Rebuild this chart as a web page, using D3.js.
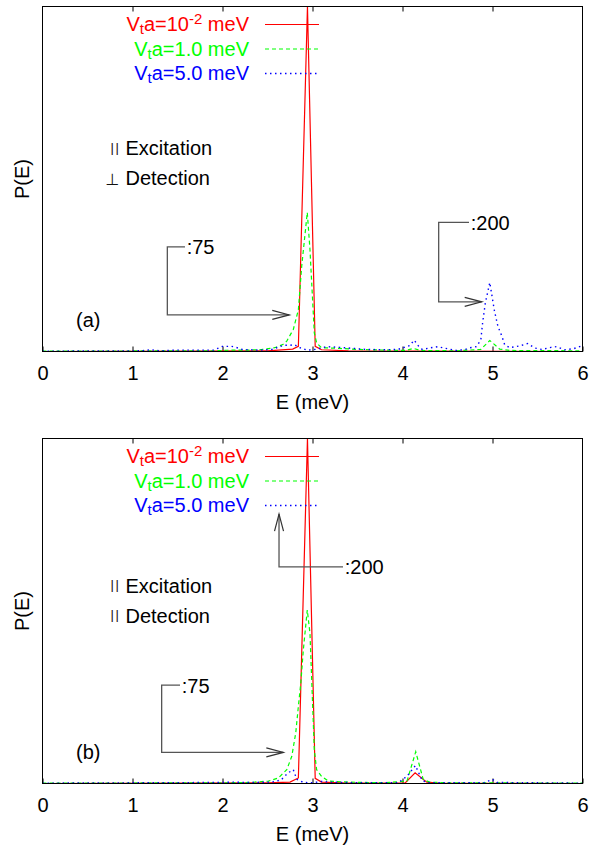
<!DOCTYPE html>
<html>
<head>
<meta charset="utf-8">
<script src="https://cdn.jsdelivr.net/npm/d3@7"></script>
<style>
  body { margin: 0; background: #fff; }
  svg { display: block; font-family: "Liberation Sans", Arial, Helvetica, sans-serif; }
</style>
</head>
<body>
<svg id="chart" width="589" height="846"></svg>
<script>
// ---- data -------------------------------------------------------------
const xTicks = [0, 1, 2, 3, 4, 5, 6];
const xTitle = "E (meV)";
const yTitle = "P(E)";
const seriesColors = ["#ff0000", "#00ff00", "#0000ff"];
const legendValues = ["10", "1.0", "5.0"];
const legendExponents = ["-2", "", ""];
const panelLabels = ["(a)", "(b)"];
const excitationMarks = ["||", "||"];
const detectionMarks = ["\u22A5", "||"];
const noteLabels = [[":75", ":200"], [":200", ":75"]];

// panel (a): [E (meV), P(E)]
const redA = [[0, 0], [2.5, 0.002], [2.78, 0.007], [2.843, 0.015], [2.944, 1.0],
  [3.03, 0.015], [3.1, 0.005], [3.4, 0.002], [6, 0]];
const greenA = [[0, 0.001], [1.9, 0.002], [2.1, 0.004], [2.3, 0.004], [2.44, 0.006],
  [2.58, 0.011], [2.67, 0.02], [2.714, 0.03], [2.787, 0.064], [2.843, 0.121],
  [2.88, 0.247], [2.942, 0.403], [2.972, 0.295], [3.02, 0.054], [3.046, 0.025],
  [3.1, 0.011], [3.3, 0.009], [3.5, 0.006], [3.8, 0.004], [4.04, 0.003],
  [4.12, 0.009], [4.2, 0.003], [4.6, 0.002], [4.87, 0.006], [4.97, 0.032],
  [5.08, 0.007], [5.2, 0.003], [6, 0.002]];
const blueA = [[0, 0.001], [1.1, 0.002], [1.2, 0.005], [1.3, 0.002], [1.5, 0.004],
  [1.9, 0.004], [2.0, 0.015], [2.1, 0.015], [2.15, 0.012], [2.22, 0.006],
  [2.4, 0.004], [2.55, 0.006], [2.676, 0.018], [2.75, 0.018], [2.8, 0.02],
  [2.85, 0.012], [2.94, 0.004], [3.03, 0.006], [3.16, 0.014], [3.3, 0.012],
  [3.45, 0.009], [3.6, 0.006], [3.8, 0.005], [3.95, 0.006], [4.08, 0.017],
  [4.13, 0.033], [4.18, 0.015], [4.22, 0.006], [4.3, 0.01], [4.39, 0.014],
  [4.5, 0.008], [4.6, 0.003], [4.7, 0.006], [4.75, 0.011], [4.82, 0.014],
  [4.87, 0.033], [4.89, 0.083], [4.92, 0.14], [4.97, 0.2], [5.02, 0.12],
  [5.06, 0.073], [5.105, 0.044], [5.135, 0.02], [5.19, 0.011], [5.3, 0.016],
  [5.39, 0.023], [5.47, 0.01], [5.55, 0.006], [5.65, 0.012], [5.71, 0.014],
  [5.8, 0.005], [5.9, 0.008], [6, 0.017]];

// panel (b): [E (meV), P(E)]
const redB = [[0, 0], [2.5, 0.002], [2.75, 0.004], [2.843, 0.016], [2.944, 1.0],
  [3.03, 0.015], [3.1, 0.004], [3.4, 0.001], [4.03, 0.002], [4.14, 0.031],
  [4.27, 0.004], [4.4, 0.001], [6, 0]];
const greenB = [[0, 0.001], [2.0, 0.002], [2.3, 0.003], [2.51, 0.007], [2.62, 0.016],
  [2.714, 0.04], [2.77, 0.079], [2.814, 0.147], [2.843, 0.224], [2.87, 0.291],
  [2.898, 0.387], [2.942, 0.503], [2.972, 0.435], [3.02, 0.098], [3.046, 0.04],
  [3.1, 0.021], [3.175, 0.007], [3.4, 0.004], [3.8, 0.002], [4.05, 0.007],
  [4.147, 0.092], [4.23, 0.012], [4.3, 0.004], [4.5, 0.002], [6, 0.001]];
const blueB = [[0, 0.001], [1.0, 0.002], [2.0, 0.003], [2.1, 0.004], [2.3, 0.003],
  [2.55, 0.004], [2.65, 0.01], [2.73, 0.031], [2.787, 0.04], [2.825, 0.012],
  [2.9, 0.003], [3.0, 0.002], [3.1, 0.006], [3.2, 0.004], [3.5, 0.002],
  [3.95, 0.002], [4.05, 0.021], [4.144, 0.052], [4.22, 0.008], [4.3, 0.002],
  [4.9, 0.002], [5.0, 0.012], [5.05, 0.003], [6, 0.001]];

// ---- layout -----------------------------------------------------------
const svg = d3.select("#chart");
const plotLeft = 42.5, plotRight = 582.5, plotH = 345;
const panels = [
  { top: 6.5, series: [redA, greenA, blueA], excY: 155, detY: 185,
    notes: [
      { path: [[1.583, 0.303], [1.387, 0.303], [1.387, 0.106], [2.742, 0.106]] },
      { path: [[4.739, 0.374], [4.402, 0.374], [4.402, 0.144], [4.88, 0.144]] }
    ] },
  { top: 438.5, series: [redB, greenB, blueB], excY: 592.7, detY: 622.7,
    notes: [
      { path: [[3.339, 0.628], [2.628, 0.628], [2.628, 0.781]] },
      { path: [[1.528, 0.285], [1.324, 0.285], [1.324, 0.09], [2.676, 0.09]] }
    ] }
];
const dashes = [null, "4,3", "1.5,3.5"];
const widths = [1.2, 1.2, 1.4];

const x = d3.scaleLinear().domain([0, 6]).range([plotLeft, plotRight]);

panels.forEach((p, pi) => {
  const bottom = p.top + plotH;
  const y = d3.scaleLinear().domain([0, 1]).range([bottom, p.top]);
  const g = svg.append("g");

  const clipId = "clip" + pi;
  svg.append("clipPath").attr("id", clipId)
    .append("rect").attr("x", plotLeft).attr("y", p.top)
    .attr("width", plotRight - plotLeft).attr("height", plotH);

  // ticks (inside, bottom and top)
  const axB = g.append("g").attr("transform", `translate(0,${bottom})`)
    .call(d3.axisBottom(x).tickValues(xTicks).tickSize(-5).tickPadding(14)
      .tickFormat(d3.format("d")));
  const axT = g.append("g").attr("transform", `translate(0,${p.top})`)
    .call(d3.axisTop(x).tickValues(xTicks.slice(1, -1)).tickSize(-5).tickFormat(""));
  [axB, axT].forEach(a => {
    a.select(".domain").remove();
    a.selectAll(".tick line").attr("stroke", "#000").attr("stroke-width", 1);
    a.selectAll(".tick text").attr("font-size", 20).attr("fill", "#000")
      .attr("font-family", "Liberation Sans, Arial, sans-serif");
  });

  // curves
  const line = d3.line().x(d => x(d[0])).y(d => y(d[1]));
  const curves = g.append("g").attr("clip-path", `url(#${clipId})`);
  p.series.forEach((s, si) => {
    curves.append("path").datum(s).attr("d", line)
      .attr("fill", "none").attr("stroke", seriesColors[si])
      .attr("stroke-width", widths[si])
      .attr("stroke-dasharray", dashes[si]);
  });

  // frame
  g.append("rect").attr("x", plotLeft).attr("y", p.top)
    .attr("width", plotRight - plotLeft).attr("height", plotH)
    .attr("fill", "none").attr("stroke", "#000").attr("stroke-width", 1);

  // axis titles
  g.append("text").attr("x", (plotLeft + plotRight) / 2).attr("y", bottom + 57.5)
    .attr("text-anchor", "middle").attr("font-size", 20).text(xTitle);
  g.append("text")
    .attr("transform", `translate(28.5,${(p.top + bottom) / 2}) rotate(-90)`)
    .attr("text-anchor", "middle").attr("font-size", 20).text(yTitle);

  // panel tag
  g.append("text").attr("x", 76).attr("y", bottom - 24.5)
    .attr("font-size", 20).text(panelLabels[pi]);

  // legend
  legendValues.forEach((v, i) => {
    const ly = p.top + 18 + i * 24.5;
    const t = g.append("text").attr("x", 249).attr("y", ly + 6.5)
      .attr("text-anchor", "end").attr("font-size", 20)
      .attr("fill", seriesColors[i]).style("white-space", "pre");
    t.append("tspan").text("V");
    t.append("tspan").attr("font-size", 15).attr("dy", 3).text("t");
    t.append("tspan").attr("dy", -3).text("a=" + v);
    if (legendExponents[i]) {
      t.append("tspan").attr("font-size", 15).attr("dy", -7).text(legendExponents[i]);
      t.append("tspan").attr("dy", 7).text(" meV");
    } else {
      t.append("tspan").text(" meV");
    }
    g.append("line").attr("x1", 265).attr("x2", 319)
      .attr("y1", ly).attr("y2", ly)
      .attr("stroke", seriesColors[i]).attr("stroke-width", widths[i])
      .attr("stroke-dasharray", dashes[i]);
  });

  // polarisation notes
  const mark = (sym, yy) => {
    if (sym === "||") {
      g.append("text").attr("x", 110.5).attr("y", yy - 3.4)
        .attr("font-size", 13).attr("letter-spacing", 1.6)
        .attr("fill", "#111").text(sym);
    } else {
      g.append("text").attr("x", 112.5).attr("y", yy)
        .attr("text-anchor", "middle").attr("font-size", 16)
        .attr("font-family", "DejaVu Sans, sans-serif")
        .attr("fill", "#111").text(sym);
    }
  };
  mark(excitationMarks[pi], p.excY);
  g.append("text").attr("x", 125.5).attr("y", p.excY).attr("font-size", 20).text("Excitation");
  mark(detectionMarks[pi], p.detY);
  g.append("text").attr("x", 125.5).attr("y", p.detY).attr("font-size", 20).text("Detection");

  // scale-factor arrows
  p.notes.forEach((n, ni) => {
    const pts = n.path.map(d => [x(d[0]), y(d[1])]);
    g.append("path").attr("d", d3.line()(pts))
      .attr("fill", "none").attr("stroke", "#555").attr("stroke-width", 1.3);
    const [x1, y1] = pts[pts.length - 2], [x2, y2] = pts[pts.length - 1];
    const a = Math.atan2(y2 - y1, x2 - x1);
    const L = 17, Hw = 4.5;
    const bx = x2 - L * Math.cos(a), by = y2 - L * Math.sin(a);
    const px = -Math.sin(a) * Hw, py = Math.cos(a) * Hw;
    g.append("path")
      .attr("d", d3.line()([[bx + px, by + py], [x2, y2], [bx - px, by - py]]))
      .attr("fill", "none").attr("stroke", "#333").attr("stroke-width", 1.2);
    g.append("text").attr("x", pts[0][0] + 1.7).attr("y", pts[0][1] + 7.5)
      .attr("font-size", 20).text(noteLabels[pi][ni]);
  });
});
</script>
</body>
</html>
